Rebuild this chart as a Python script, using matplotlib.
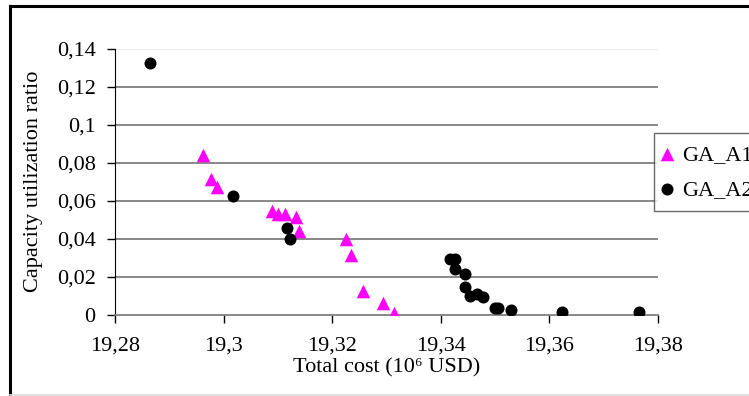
import matplotlib
matplotlib.use("Agg")
import matplotlib.pyplot as plt
from matplotlib.lines import Line2D

plt.rcParams['font.family'] = ['Liberation Serif', 'DejaVu Serif']

# GA_A1 (magenta triangles)
a1_cost = [19.2962, 19.2976, 19.2987, 19.3090, 19.3101, 19.3113, 19.3134,
           19.3139, 19.3226, 19.3234, 19.3256, 19.3293, 19.3314]
a1_ratio = [0.0840, 0.0714, 0.0670, 0.0546, 0.0528, 0.0528, 0.0512,
            0.0440, 0.0398, 0.0314, 0.0125, 0.0060, 0.0007]

# GA_A2 (black circles)
a2_cost = [19.2864, 19.3018, 19.3117, 19.3122, 19.3417, 19.3427, 19.3426,
           19.3445, 19.3445, 19.3454, 19.3466, 19.3478, 19.3499, 19.3505,
           19.3529, 19.3623, 19.3765]
a2_ratio = [0.1323, 0.0625, 0.0458, 0.0396, 0.0291, 0.0291, 0.0239,
            0.0214, 0.0144, 0.0098, 0.0107, 0.0095, 0.0033, 0.0033,
            0.0026, 0.0016, 0.0016]

xticks = [19.28, 19.30, 19.32, 19.34, 19.36, 19.38]
xtick_labels = ['19,28', '19,3', '19,32', '19,34', '19,36', '19,38']
yticks = [0, 0.02, 0.04, 0.06, 0.08, 0.10, 0.12, 0.14]
ytick_labels = ['0', '0,02', '0,04', '0,06', '0,08', '0,1', '0,12', '0,14']

fs = 16

fig = plt.figure(figsize=(7.49, 3.96), dpi=100)
ax = fig.add_axes([0.1535, 0.2053, 0.725, 0.6717])

# outer frame of the chart (top + left black, bottom light gray)
W, H = 749, 396
fig.lines.append(Line2D([10/W, 10/W], [0, 1 - 6/H], transform=fig.transFigure,
                        color='black', linewidth=2.2))
fig.lines.append(Line2D([10/W, 1], [1 - 6/H, 1 - 6/H], transform=fig.transFigure,
                        color='black', linewidth=2.2))
fig.lines.append(Line2D([10/W, 1], [1.2/H, 1.2/H], transform=fig.transFigure,
                        color='#dddddd', linewidth=1.2))

for y in yticks[1:-1]:
    ax.axhline(y, color='#7f7f7f', linewidth=1.3, zorder=1)
ax.axhline(0.14, color='#eeeeee', linewidth=1.0, zorder=1)

ax.scatter(a1_cost, a1_ratio, marker='^', s=95, color='#ff00ff', linewidths=0,
           label='GA_A1', zorder=3)
ax.scatter(a2_cost, a2_ratio, marker='o', s=75, color='black', linewidths=0,
           label='GA_A2', zorder=3)

ax.set_xlim(19.28, 19.38)
ax.set_ylim(0, 0.14)
ax.set_xticks(xticks)
ax.set_xticklabels(xtick_labels)
ax.set_yticks(yticks)
ax.set_yticklabels(ytick_labels)
ax.tick_params(axis='both', labelsize=fs, direction='out', length=6, width=1, color='black')
ax.tick_params(axis='x', pad=10)
ax.tick_params(axis='y', pad=8)

for side in ['top', 'right']:
    ax.spines[side].set_visible(False)
ax.spines['left'].set_color('black')
ax.spines['bottom'].set_color('#7f7f7f')
ax.spines['bottom'].set_linewidth(1.3)

ax.set_xlabel('Total cost (10\u2076 USD)', fontsize=fs, labelpad=2)
ax.set_ylabel('Capacity utilization ratio', fontsize=fs, labelpad=10)

leg = fig.legend(loc='upper left', bbox_to_anchor=(654/W, 1 - 133/H), fontsize=fs,
                 frameon=True, fancybox=False, edgecolor='#444444', borderaxespad=0,
                 handletextpad=0.57, handlelength=0.2, borderpad=0.5, labelspacing=0.65)
leg.get_frame().set_linewidth(1.0)

fig.savefig('out.png', dpi=100)
